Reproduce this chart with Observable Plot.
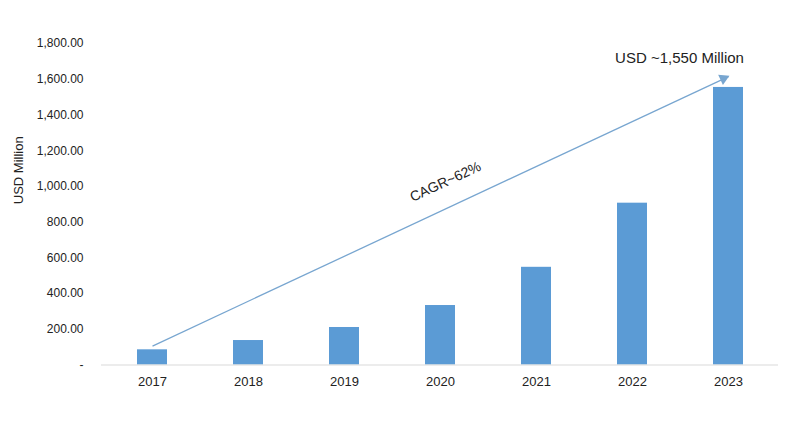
<!DOCTYPE html>
<html>
<head>
<meta charset="utf-8">
<script src="https://cdn.jsdelivr.net/npm/d3@7"></script>
<script src="https://cdn.jsdelivr.net/npm/@observablehq/plot@0.6"></script>
<style>
  html, body { margin: 0; padding: 0; background: #fff; }
  #chart svg { display: block; }
</style>
</head>
<body>
<div id="chart"></div>
<script>
const years = ["2017", "2018", "2019", "2020", "2021", "2022", "2023"];
const values = [85, 137, 210, 333, 547, 906, 1554];
const yTicks = [0, 200, 400, 600, 800, 1000, 1200, 1400, 1600, 1800];
const yAxisTitle = "USD Million";
const cagrLabel = "CAGR~62%";
const endLabel = "USD ~1,550 Million";
const arrowStart = {year: "2017", value: 106};
const arrowEnd = {year: "2023", value: 1615};

const data = years.map((y, i) => ({year: y, value: values[i]}));
const fmt = v => v === 0 ? "-" : d3.format(",.2f")(v);

const font = "'Liberation Sans', Arial, sans-serif";

const chart = Plot.plot({
  width: 800,
  height: 434,
  marginLeft: 101,
  marginRight: 22,
  marginTop: 43,
  marginBottom: 69.5,
  style: {fontFamily: font, background: "#fff", color: "#222"},
  x: {domain: years, paddingInner: 0.69, paddingOuter: 0.345, label: null},
  y: {domain: [0, 1800], label: null},
  marks: [
    Plot.barY(data, {x: "year", y: "value", fill: "#5b9bd5"}),
    Plot.ruleY([0], {stroke: "#d9d9d9", strokeWidth: 1}),
    Plot.axisY({ticks: yTicks, tickFormat: fmt, tickSize: 0, tickPadding: 18, fontSize: 12, label: null}),
    Plot.axisX({tickSize: 0, tickPadding: 12, fontSize: 13, label: null}),
    Plot.text([yAxisTitle], {frameAnchor: "left", dx: -83, dy: 0, rotate: -90, fontSize: 13, fill: "#222"}),
    Plot.link([{x1: arrowStart.year, y1: arrowStart.value, x2: arrowEnd.year, y2: arrowEnd.value}], {
      x1: "x1", y1: "y1", x2: "x2", y2: "y2", stroke: "#78a6d0", strokeWidth: 1.3
    }),
    Plot.dot([arrowEnd], {x: "year", y: "value", symbol: "triangle", r: 4.2, rotate: 65, dx: -5, dy: 2, fill: "#78a6d0", stroke: "none"}),
    Plot.text([{year: "2020", value: 1026, t: cagrLabel}], {x: "year", y: "value", text: "t", dx: 5, rotate: -25, fontSize: 14, fill: "#222"}),
    Plot.text([{year: "2023", value: 1719, t: endLabel}], {x: "year", y: "value", text: "t", dx: -49, fontSize: 15, fill: "#222"})
  ]
});
document.getElementById("chart").appendChild(chart);
</script>
</body>
</html>
